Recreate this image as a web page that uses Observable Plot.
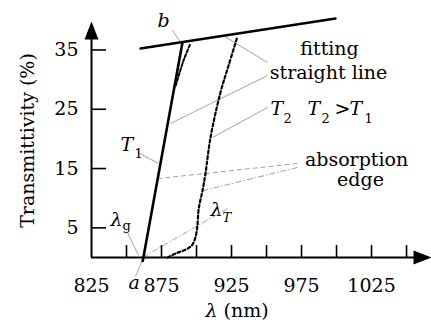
<!DOCTYPE html>
<html><head><meta charset="utf-8">
<script src="https://cdn.jsdelivr.net/npm/d3@7"></script>
<script src="https://cdn.jsdelivr.net/npm/@observablehq/plot@0.6"></script>
<style>body{margin:0;background:#fff}</style>
</head><body><div id="chart"></div>
<script>
// ---- data ----
const xDomain = [825, 1061.4];
const yDomain = [0, 43.34];
const xTickMarks = [850, 875, 900, 925, 950, 975, 1000, 1025, 1050];
const xTickLabels = [825, 875, 925, 975, 1025];
const yTicks = [5, 15, 25, 35];
const yLabel = "Transmittivity (%)";

// T1: fitted straight edge and measured curve near top
const t1Fit = [{x: 861.6, y: -0.6}, {x: 890.0, y: 36.3}];
const t1Curve = [{x: 885.2, y: 29.0}, {x: 890.7, y: 33.2}, {x: 895.7, y: 36.1}];
// T2 measured curve
const t2Curve = [
  {x: 879.3, y: 0.0}, {x: 885.0, y: 0.67}, {x: 892.0, y: 1.3}, {x: 896.5, y: 2.0},
  {x: 899.0, y: 3.2}, {x: 900.5, y: 5.06}, {x: 901.6, y: 8.26}, {x: 904.3, y: 11.3},
  {x: 906.4, y: 14.17}, {x: 910.0, y: 20.24}, {x: 917.1, y: 27.82}, {x: 922.9, y: 32.38},
  {x: 929.3, y: 37.3}
];
// fitting straight line (top)
const fitLine = [{x: 860.0, y: 35.24}, {x: 999.3, y: 40.3}];

// leader lines
const leaders = [
  {x1: 882.9, y1: 38.28, x2: 889.3, y2: 36.09, kind: "dot"},   // b
  {x1: 920.0, y1: 37.27, x2: 950.7, y2: 32.88, kind: "dot"},   // fitting
  {x1: 950.7, y1: 30.69, x2: 881.4, y2: 22.60, kind: "dot"},   // straight line
  {x1: 950.7, y1: 25.30, x2: 911.4, y2: 20.24, kind: "dot"},   // T2
  {x1: 857.9, y1: 17.71, x2: 872.9, y2: 15.85, kind: "dot"},   // T1
  {x1: 972.1, y1: 15.85, x2: 872.9, y2: 13.32, kind: "dash"},  // absorption edge 1
  {x1: 972.1, y1: 15.18, x2: 905.0, y2: 11.30, kind: "dashdot"}, // absorption edge 2
  {x1: 922.1, y1: 8.26, x2: 861.4, y2: 0.0, kind: "dashdot"},  // lambda_T
  {x1: 856.4, y1: -3.2, x2: 862.1, y2: 0.0, kind: "dot"},      // a
  {x1: 850.7, y1: 4.22, x2: 858.6, y2: 0.34, kind: "dot"}      // lambda_g
];

// plain labels (centered, baseline at y)
const plainLabels = [
  {text: "fitting", x: 995.0, y: 34.23},
  {text: "straight line", x: 994.3, y: 30.02},
  {text: "absorption", x: 1014.3, y: 15.35},
  {text: "edge", x: 1017.1, y: 11.98}
];
// math labels (left anchored, baseline at y)
const italicMain = [
  {text: "b", x: 872.1, y: 38.79},
  {text: "T", x: 845.7, y: 17.88},
  {text: "T", x: 952.9, y: 23.95},
  {text: "T", x: 979.3, y: 23.95},
  {text: "T", x: 1009.3, y: 23.95},
  {text: "λ", x: 838.6, y: 5.23},
  {text: "a", x: 851.4, y: -5.23},
  {text: "λ", x: 910.0, y: 7.08},
  {text: "λ", x: 906.4, y: -9.95}
];
const romanMain = [
  {text: ">", x: 998.6, y: 23.95},
  {text: "(nm)", x: 919.3, y: -9.95}
];
const romanSub = [
  {text: "1", x: 855.7, y: 16.86},
  {text: "2", x: 962.1, y: 22.60},
  {text: "2", x: 989.3, y: 22.60},
  {text: "1", x: 1020.0, y: 22.60},
  {text: "g", x: 847.1, y: 4.72}
];
const italicSub = [
  {text: "T", x: 918.6, y: 6.07}
];

// ---- arrow head symbols ----
const arrowUp = {draw(c) { c.moveTo(0, -9); c.lineTo(7, 9); c.lineTo(-7, 9); c.closePath(); }};
const arrowRight = {draw(c) { c.moveTo(9, 0); c.lineTo(-9, 7); c.lineTo(-9, -7); c.closePath(); }};

const dashes = {dot: null, dash: "5,3", dashdot: "6,2,1.5,2"};
const font = "DejaVu Serif";
const txt = (data, opts) => Plot.text(data, {x: "x", y: "y", text: "text", lineAnchor: "bottom", fill: "black", fontFamily: font, ...opts});

const chart = Plot.plot({
  width: 431, height: 326,
  marginLeft: 91, marginRight: 9, marginTop: 0, marginBottom: 69,
  x: {domain: xDomain},
  y: {domain: yDomain},
  style: {fontFamily: font, fontSize: "19px", background: "white", color: "black", overflow: "visible"},
  marks: [
    // leaders
    ...Object.keys(dashes).map(k => Plot.link(leaders.filter(d => d.kind === k), {
      x1: "x1", y1: "y1", x2: "x2", y2: "y2", stroke: "#8a8a8a", strokeWidth: 0.8,
      strokeDasharray: dashes[k]
    })),
    // axes lines
    Plot.ruleX([xDomain[0]], {y1: 0, y2: 38.28, stroke: "black", strokeWidth: 2}),
    Plot.ruleY([0], {x1: xDomain[0], x2: xDomain[1], stroke: "black", strokeWidth: 2}),
    Plot.dot([{x: xDomain[0], y: 38.28}], {x: "x", y: "y", symbol: arrowUp, fill: "black", stroke: null}),
    Plot.dot([{x: xDomain[1], y: 0}], {x: "x", y: "y", symbol: arrowRight, fill: "black", stroke: null}),
    // ticks
    Plot.axisY(yTicks, {anchor: "left", tickSize: -15, text: null, label: null, strokeWidth: 1.6}),
    Plot.axisY(yTicks, {anchor: "left", tickSize: 0, tickPadding: 13, label: null, tickFormat: d => String(d)}),
    Plot.axisX(xTickMarks, {anchor: "bottom", tickSize: -12, text: null, label: null, strokeWidth: 1.6}),
    Plot.axisX(xTickLabels, {anchor: "bottom", tickSize: 0, tickPadding: 21, label: null, tickFormat: d => String(d)}),
    // curves
    Plot.line(fitLine, {x: "x", y: "y", stroke: "black", strokeWidth: 2.4}),
    Plot.line(t1Fit, {x: "x", y: "y", stroke: "black", strokeWidth: 2.6}),
    Plot.line(t1Curve, {x: "x", y: "y", stroke: "black", strokeWidth: 2, strokeDasharray: "3,2", curve: "catmull-rom"}),
    Plot.line(t2Curve, {x: "x", y: "y", stroke: "black", strokeWidth: 2.2, strokeDasharray: "3,2.5", curve: "catmull-rom"}),
    // labels
    txt(plainLabels, {textAnchor: "middle"}),
    txt(italicMain, {textAnchor: "start", fontStyle: "italic"}),
    txt(romanMain, {textAnchor: "start"}),
    txt(romanSub, {textAnchor: "start", fontSize: 13}),
    txt(italicSub, {textAnchor: "start", fontSize: 13, fontStyle: "italic"}),
    Plot.text([yLabel], {x: 779.3, y: 19.73, text: d => d, rotate: -90, textAnchor: "middle", lineAnchor: "middle", fill: "black", fontFamily: font})
  ]
});
document.getElementById("chart").appendChild(chart);
</script>
</body></html>
